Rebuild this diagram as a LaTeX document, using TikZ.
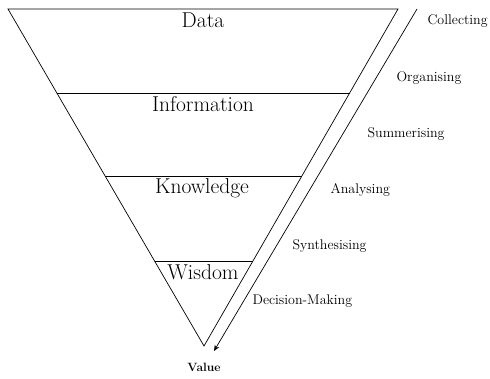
\documentclass[tikz,border=0pt]{standalone}
\usetikzlibrary{calc,arrows.meta}
\begin{document}
\begin{tikzpicture}[x=1pt,y=-1pt,
  level/.style={font=\fontsize{21.5}{24}\selectfont},
  proc/.style={anchor=west,font=\fontsize{14}{16}\selectfont},
  edge/.style={line width=0.7pt},
  flow/.style={line width=0.7pt,-{Stealth[length=6pt,width=5pt]}}]
\useasboundingbox (0,0) rectangle (490,378);
\coordinate (TL) at (8,9);
\coordinate (TR) at (398,9);
\coordinate (A) at (204,346);
\draw[edge] (TL) -- (TR) -- (A) -- cycle;
\foreach \f/\n in {0.2493/a,0.4955/b,0.7478/c}{
  \coordinate (L\n) at ($(TL)!\f!(A)$);
  \coordinate (R\n) at ($(TR)!\f!(A)$);
  \draw[edge] (L\n) -- (R\n);
}
\node[level] (data) at (203,20) {Data};
\node[level] (info) at (203,104) {Information};
\node[level] (know) at (202,188) {Knowledge};
\node[level] (wis) at (203,272) {Wisdom};
\coordinate (S) at (417,9);
\coordinate (E) at (214,351);
\draw[flow] (S) -- (E);
\node[proc] (c1) at (424,21) {Collecting};
\node[proc] (c2) at (393,78) {Organising};
\node[proc] (c3) at (364,134) {Summerising};
\node[proc] (c4) at (327,190) {Analysing};
\node[proc] (c5) at (289,246) {Synthesising};
\node[proc] (c6) at (249,301) {Decision-Making};
\node[font=\bfseries\fontsize{12}{14}\selectfont] (val) at (204,367) {Value};
\end{tikzpicture}
\end{document}
